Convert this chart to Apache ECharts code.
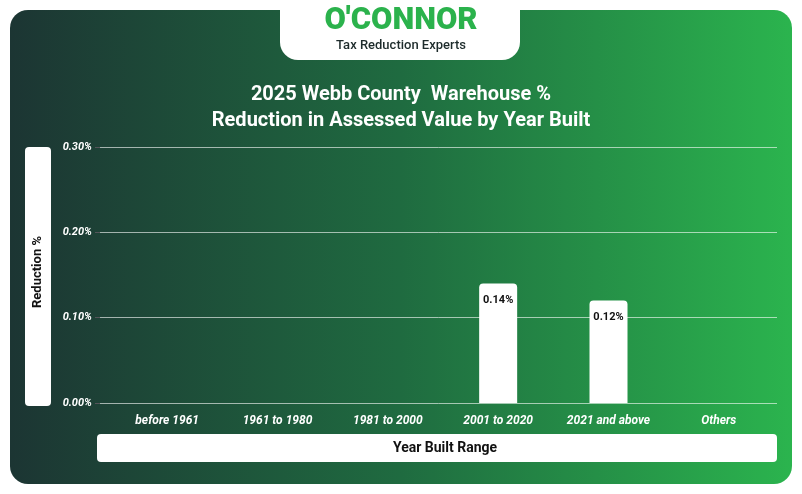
<!DOCTYPE html>
<html><head><meta charset="utf-8">
<script src="https://cdn.jsdelivr.net/npm/echarts@6/dist/echarts.min.js"></script>
<style>html,body{margin:0;padding:0;background:#fff}#c{width:802px;height:494px}</style>
</head><body><div id="c"></div>
<script>
const categories = ["before 1961","1961 to 1980","1981 to 2000","2001 to 2020","2021 and above","Others"];
const values = [null,null,null,0.14,0.12,null];
const yTicks = [0,0.1,0.2,0.3];
const chart = echarts.init(document.getElementById('c'));
chart.setOption({
  graphic:[
    {type:'rect',z:-10,shape:{x:10,y:10,width:782,height:474,r:18},style:{fill:new echarts.graphic.LinearGradient(0,0,1,0,[{offset:0,color:'#1c3533'},{offset:0.5,color:'#1f6b40'},{offset:1,color:'#2bb44e'}])}},
    {type:'rect',z:-5,shape:{x:280,y:0,width:240,height:60,r:[0,0,18,18]},style:{fill:'#fff'}},
    {type:'text',left:'center',top:6,style:{text:"O'CONNOR",fill:'#2bb24c',font:'900 31px Roboto'}},
    {type:'text',left:'center',top:39,style:{text:'Tax Reduction Experts',fill:'#1d2b2b',font:'500 13px Roboto'}},
    {type:'rect',shape:{x:25,y:147,width:26,height:259,r:4},style:{fill:'#fff'}},
    {type:'text',x:38,y:272,rotation:Math.PI/2,style:{text:'Reduction %',fill:'#111',font:'bold 13px Roboto',align:'center',verticalAlign:'middle'}},
    {type:'rect',shape:{x:97,y:434,width:680,height:28,r:4},style:{fill:'#fff'}},
    {type:'text',x:445,y:448,style:{text:'Year Built Range',fill:'#111',font:'bold 14px Roboto',align:'center',verticalAlign:'middle'}}
  ],
  title:{text:'2025 Webb County  Warehouse %\nReduction in Assessed Value by Year Built',left:'center',top:77,textStyle:{color:'#fff',fontSize:20,fontWeight:'bold',fontFamily:'Roboto',lineHeight:26}},
  grid:[{left:100,right:25,top:147,bottom:91},{left:112,right:28,top:147,bottom:91}],
  xAxis:[{type:'value',gridIndex:0,show:false},
    {type:'category',gridIndex:1,data:categories,axisLine:{show:false},axisTick:{show:false},
    axisLabel:{interval:0,color:'#fff',fontStyle:'italic',fontWeight:'bold',fontSize:12,fontFamily:'Roboto',margin:12}}],
  yAxis:[{type:'value',gridIndex:0,min:0,max:0.3,interval:0.1,
    axisLabel:{color:'#fff',fontStyle:'italic',fontWeight:'bold',fontSize:11,fontFamily:'Roboto',formatter:v=>v.toFixed(2)+'%'},
    splitLine:{lineStyle:{color:'rgba(255,255,255,0.6)',width:1}},axisLine:{show:false}},
    {type:'value',gridIndex:1,min:0,max:0.3,interval:0.1,show:false}],
  series:[{type:'bar',xAxisIndex:1,yAxisIndex:1,data:values,barWidth:38,itemStyle:{color:'#fff',borderRadius:[4,4,0,0]},
    label:{show:true,position:'insideTop',offset:[0,6],color:'#111',fontWeight:'bold',fontSize:11,fontFamily:'Roboto',formatter:p=>p.value.toFixed(2)+'%'}}]
});
</script></body></html>
